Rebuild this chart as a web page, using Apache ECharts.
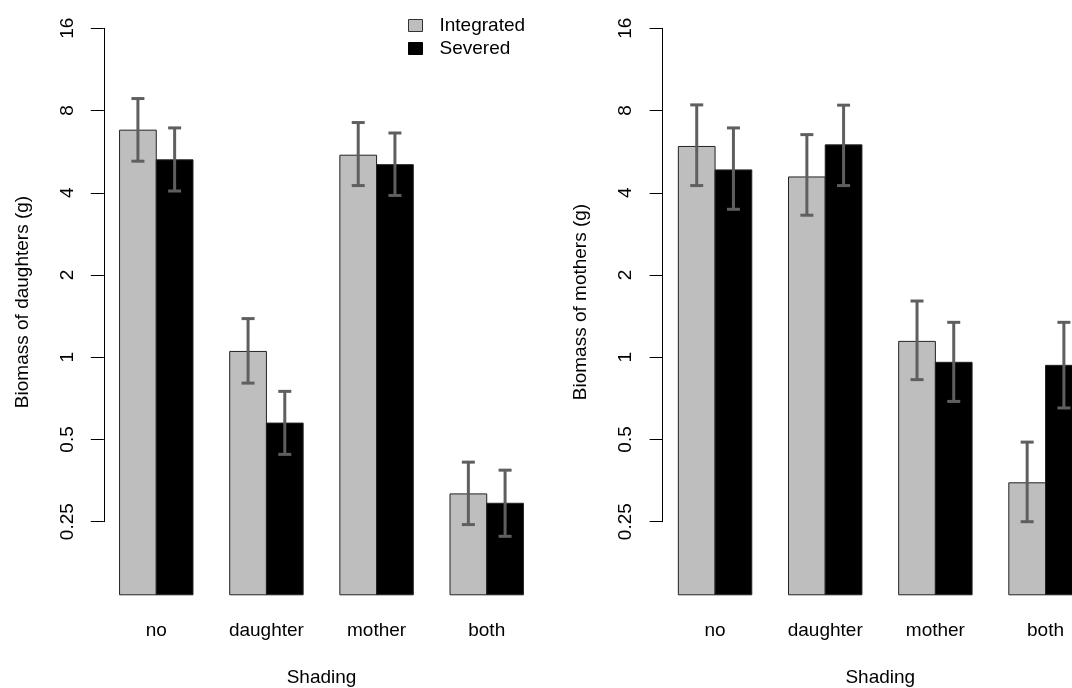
<!DOCTYPE html>
<html>
<head>
<meta charset="utf-8">
<script src="https://cdn.jsdelivr.net/npm/echarts@6/dist/echarts.min.js"></script>
<style>html,body{margin:0;padding:0;background:#fff}#c{width:1072px;height:688px}</style>
</head>
<body>
<div id="c"></div>
<script>
// ---- data ----
const categories = ['no', 'daughter', 'mother', 'both'];
const seriesNames = ['Integrated', 'Severed'];
const yTickLabels = ['0.25', '0.5', '1', '2', '4', '8', '16'];
const barBase = 0.135; // baseline of the bars (bottom of the barplot)

// Biomass of daughters (g)
const daughtersIntegrated = [6.78, 1.05, 5.49, 0.316];
const daughtersIntegratedLo = [5.22, 0.804, 4.25, 0.244];
const daughtersIntegratedHi = [8.85, 1.385, 7.23, 0.413];
const daughtersSevered = [5.28, 0.574, 5.07, 0.292];
const daughtersSeveredLo = [4.06, 0.441, 3.91, 0.221];
const daughtersSeveredHi = [6.91, 0.750, 6.62, 0.386];

// Biomass of mothers (g)
const mothersIntegrated = [5.91, 4.57, 1.143, 0.347];
const mothersIntegratedLo = [4.25, 3.31, 0.828, 0.250];
const mothersIntegratedHi = [8.39, 6.53, 1.606, 0.489];
const mothersSevered = [4.85, 5.99, 0.958, 0.934];
const mothersSeveredLo = [3.48, 4.25, 0.689, 0.652];
const mothersSeveredHi = [6.91, 8.37, 1.342, 1.342];

// ---- chart ----
const FONT = 'Liberation Sans, Arial, sans-serif';
const FS = 19;
const colors = {Integrated: '#bebebe', Severed: '#000000'};

function barRender(side) {
  return function (params, api) {
    const i = api.value(0), v = api.value(1);
    const top = api.coord([i, v]);
    const bot = api.coord([i, barBase]);
    const w = params.coordSys.width / categories.length / 3;
    const x0 = side < 0 ? top[0] - w : top[0];
    return {
      type: 'rect',
      shape: {x: x0, y: top[1], width: w, height: bot[1] - top[1]},
      style: api.style({stroke: '#222', lineWidth: 1})
    };
  };
}
function errRender(side) {
  return function (params, api) {
    const i = api.value(0);
    const lo = api.coord([i, api.value(1)]);
    const hi = api.coord([i, api.value(2)]);
    const w = params.coordSys.width / categories.length / 3;
    const cx = lo[0] + side * w / 2;
    const cap = 6.5;
    const st = {stroke: '#5f5f5f', lineWidth: 3};
    return {
      type: 'group',
      children: [
        {type: 'line', shape: {x1: cx, y1: lo[1], x2: cx, y2: hi[1]}, style: st},
        {type: 'line', shape: {x1: cx - cap, y1: lo[1], x2: cx + cap, y2: lo[1]}, style: st},
        {type: 'line', shape: {x1: cx - cap, y1: hi[1], x2: cx + cap, y2: hi[1]}, style: st}
      ]
    };
  };
}

function makeAxes(gi, yName) {
  const x = {
    type: 'category', gridIndex: gi, data: categories,
    axisLine: {show: false}, axisTick: {show: false},
    axisLabel: {margin: 100, fontFamily: FONT, fontSize: FS, color: '#000'},
    name: 'Shading', nameLocation: 'middle', nameGap: 147,
    nameTextStyle: {fontFamily: FONT, fontSize: FS, color: '#000'},
    splitLine: {show: false}
  };
  const y = {
    type: 'log', logBase: 2, gridIndex: gi, min: 0.25, max: 16, splitNumber: 6,
    offset: -2.6,
    axisLine: {show: true, lineStyle: {color: '#000', width: 1}},
    axisTick: {show: true, length: 13, lineStyle: {color: '#000', width: 1}},
    axisLabel: {
      rotate: 90, margin: 27, fontFamily: FONT, fontSize: FS, color: '#000',
      formatter: function (v) {
        const e = Math.round(Math.log2(v));
        return yTickLabels[e + 2] !== undefined ? yTickLabels[e + 2] : '';
      }
    },
    splitLine: {show: false},
    name: yName, nameLocation: 'middle', nameGap: 72, nameRotate: 90,
    nameTextStyle: {fontFamily: FONT, fontSize: FS, color: '#000', padding: [0, 54, 0, 0]}
  };
  return [x, y];
}

const ax0 = makeAxes(0, 'Biomass of daughters (g)');
const ax1 = makeAxes(1, 'Biomass of mothers (g)');

function toBar(vals) { return vals.map((v, i) => [i, v]); }
function toErr(lo, hi) { return lo.map((v, i) => [i, v, hi[i]]); }

const option = {
  animation: false,
  backgroundColor: '#fff',
  grid: [
    {left: 101.2, top: 28.3, width: 440.6, height: 493.4, outerBoundsMode: 'none', containLabel: false},
    {left: 660, top: 28.3, width: 440.6, height: 493.4, outerBoundsMode: 'none', containLabel: false}
  ],
  xAxis: [ax0[0], ax1[0]],
  yAxis: [ax0[1], ax1[1]],
  legend: {
    orient: 'vertical', left: 403, top: 11, itemWidth: 14, itemHeight: 12, itemGap: 4,
    textStyle: {fontFamily: FONT, fontSize: FS, color: '#000', padding: [0, 0, 0, 12]},
    data: [
      {name: 'Integrated', icon: 'rect', itemStyle: {color: '#bebebe', borderColor: '#333', borderWidth: 1}},
      {name: 'Severed', icon: 'rect', itemStyle: {color: '#000', borderColor: '#000', borderWidth: 1}}
    ]
  },
  series: [
    {type: 'custom', name: 'Integrated', xAxisIndex: 0, yAxisIndex: 0, clip: false, renderItem: barRender(-1), itemStyle: {color: colors.Integrated}, data: toBar(daughtersIntegrated), z: 2},
    {type: 'custom', name: 'Severed', xAxisIndex: 0, yAxisIndex: 0, clip: false, renderItem: barRender(1), itemStyle: {color: colors.Severed}, data: toBar(daughtersSevered), z: 2},
    {type: 'custom', name: 'Integrated', xAxisIndex: 1, yAxisIndex: 1, clip: false, renderItem: barRender(-1), itemStyle: {color: colors.Integrated}, data: toBar(mothersIntegrated), z: 2},
    {type: 'custom', name: 'Severed', xAxisIndex: 1, yAxisIndex: 1, clip: false, renderItem: barRender(1), itemStyle: {color: colors.Severed}, data: toBar(mothersSevered), z: 2},
    {type: 'custom', name: 'errI0', xAxisIndex: 0, yAxisIndex: 0, clip: false, renderItem: errRender(-1), data: toErr(daughtersIntegratedLo, daughtersIntegratedHi), z: 3},
    {type: 'custom', name: 'errS0', xAxisIndex: 0, yAxisIndex: 0, clip: false, renderItem: errRender(1), data: toErr(daughtersSeveredLo, daughtersSeveredHi), z: 3},
    {type: 'custom', name: 'errI1', xAxisIndex: 1, yAxisIndex: 1, clip: false, renderItem: errRender(-1), data: toErr(mothersIntegratedLo, mothersIntegratedHi), z: 3},
    {type: 'custom', name: 'errS1', xAxisIndex: 1, yAxisIndex: 1, clip: false, renderItem: errRender(1), data: toErr(mothersSeveredLo, mothersSeveredHi), z: 3}
  ]
};

const chart = echarts.init(document.getElementById('c'), null, {renderer: 'canvas'});
chart.setOption(option);
</script>
</body>
</html>
